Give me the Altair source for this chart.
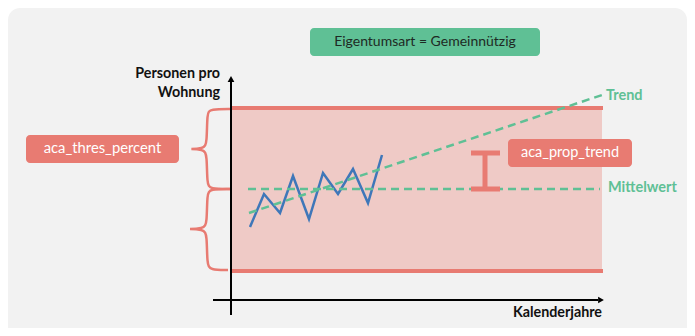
import altair as alt
import pandas as pd

# ---- data (diagram units: x = (px-8)/10, y = (328-py)/10) ----
series_x = [24.2, 25.6, 27.2, 28.5, 30.1, 31.5, 33.0, 34.5, 36.0, 37.4]
series_y = [10.1, 13.4, 11.5, 15.2, 10.9, 15.5, 13.4, 15.9, 12.5, 17.3]

mean_x = [24.0, 59.2]
mean_y = [13.9, 13.9]

trend_x = [24.1, 59.4]
trend_y = [11.5, 23.3]

band_x = [22.3, 59.4]
band_y = [5.7, 22.0]

brace_up_x = [22.4, 20.2, 19.9, 19.9, 19.6, 17.7, 19.6, 19.9, 19.9, 20.2, 22.2]
brace_up_y = [21.9, 21.9, 21.5, 18.5, 17.9, 17.9, 17.9, 17.3, 14.4, 13.9, 13.9]
brace_lo_x = [22.2, 20.2, 19.9, 19.9, 19.6, 17.5, 19.6, 19.9, 19.9, 20.2, 22.0]
brace_lo_y = [13.9, 13.9, 13.4, 10.5, 9.9, 9.9, 9.9, 9.3, 6.4, 5.8, 5.8]

yaxis_x = [22.3, 22.3]
yaxis_y = [1.3, 24.6]
xaxis_x = [20.5, 59.0]
xaxis_y = [2.8, 2.8]

err_x = 47.7
err_y = [13.9, 17.5]
cap_x = [46.3, 49.2]

boxes_label = ["Eigentumsart = Gemeinnützig", "aca_prop_trend", "aca_thres_percent"]
boxes_x = [30.2, 50.0, 1.8]
boxes_x2 = [53.2, 62.4, 17.1]
boxes_y = [30.0, 18.9, 19.3]
boxes_y2 = [27.2, 16.1, 16.5]
boxes_fill = ["#5fc095", "#e87b72", "#e87b72"]
boxes_text = ["#1e2a24", "#ffffff", "#ffffff"]
boxes_fsize = [14.0, 14.5, 14.8]

RED = "#e87b72"
GREEN = "#5fc095"
BLUE = "#3f77b9"
FONT = "Lato"

XMIN, XMAX, YMIN, YMAX = 0.0, 67.9, 0.0, 32.0
xs = alt.Scale(domain=[XMIN, XMAX], nice=False, zero=False)
ys = alt.Scale(domain=[YMIN, YMAX], nice=False, zero=False)
X = lambda f: alt.X(f, type="quantitative", scale=xs, axis=None)
Y = lambda f: alt.Y(f, type="quantitative", scale=ys, axis=None)

bg = alt.Chart(pd.DataFrame({"x": [XMIN], "x2": [XMAX], "y": [YMIN], "y2": [YMAX]})).mark_rect(
    color="#f2f2f2", cornerRadiusTopLeft=12, cornerRadiusTopRight=12).encode(
    x=X("x"), x2="x2", y=Y("y"), y2="y2")

band = alt.Chart(pd.DataFrame({"x": [band_x[0]], "x2": [band_x[1]], "y": [band_y[0]], "y2": [band_y[1]]})).mark_rect(
    color="#efcac6").encode(x=X("x"), x2="x2", y=Y("y"), y2="y2")

band_lines = alt.Chart(pd.DataFrame({"x": [band_x[0]] * 2, "x2": [band_x[1] + 0.1] * 2, "y": band_y})).mark_rule(
    color=RED, strokeWidth=4).encode(x=X("x"), x2="x2", y=Y("y"))

brace_df = pd.DataFrame({
    "x": brace_up_x + brace_lo_x,
    "y": brace_up_y + brace_lo_y,
    "g": ["up"] * len(brace_up_x) + ["lo"] * len(brace_lo_x),
    "o": list(range(len(brace_up_x))) + list(range(len(brace_lo_x))),
})
braces = alt.Chart(brace_df).mark_line(color=RED, strokeWidth=2.5, interpolate="basis").encode(
    x=X("x"), y=Y("y"), detail="g:N", order="o:Q")

axes_df = pd.DataFrame({"x": [yaxis_x[0], xaxis_x[0]], "x2": [yaxis_x[1], xaxis_x[1]],
                        "y": [yaxis_y[0], xaxis_y[0]], "y2": [yaxis_y[1], xaxis_y[1]]})
axes = alt.Chart(axes_df).mark_rule(color="black", strokeWidth=2).encode(
    x=X("x"), x2="x2", y=Y("y"), y2="y2")
arrow_up = alt.Chart(pd.DataFrame({"x": [yaxis_x[1]], "y": [yaxis_y[1] + 0.3]})).mark_point(
    shape="triangle-up", filled=True, color="black", size=45, opacity=1).encode(x=X("x"), y=Y("y"))
arrow_right = alt.Chart(pd.DataFrame({"x": [xaxis_x[1] + 0.3], "y": [xaxis_y[0]]})).mark_point(
    shape="triangle-right", filled=True, color="black", size=45, opacity=1).encode(x=X("x"), y=Y("y"))

series = alt.Chart(pd.DataFrame({"x": series_x, "y": series_y})).mark_line(
    color=BLUE, strokeWidth=2.5).encode(x=X("x"), y=Y("y"))

mean = alt.Chart(pd.DataFrame({"x": mean_x, "y": mean_y})).mark_line(
    color=GREEN, strokeWidth=2.5, strokeDash=[8, 5]).encode(x=X("x"), y=Y("y"))
trend = alt.Chart(pd.DataFrame({"x": trend_x, "y": trend_y})).mark_line(
    color=GREEN, strokeWidth=2.5, strokeDash=[8, 5]).encode(x=X("x"), y=Y("y"))

err = alt.Chart(pd.DataFrame({"x": [err_x], "y": [err_y[0]], "y2": [err_y[1]]})).mark_rule(
    color=RED, strokeWidth=5).encode(x=X("x"), y=Y("y"), y2="y2")
caps = alt.Chart(pd.DataFrame({"x": [cap_x[0]] * 2, "x2": [cap_x[1]] * 2, "y": err_y})).mark_rule(
    color=RED, strokeWidth=5).encode(x=X("x"), x2="x2", y=Y("y"))

box_df = pd.DataFrame({"label": boxes_label, "x": boxes_x, "x2": boxes_x2, "y": boxes_y, "y2": boxes_y2,
                       "fill": boxes_fill, "tc": boxes_text, "fs": boxes_fsize})
box_df["cx"] = (box_df["x"] + box_df["x2"]) / 2
box_df["cy"] = (box_df["y"] + box_df["y2"]) / 2
boxes = alt.Chart(box_df).mark_rect(cornerRadius=4).encode(
    x=X("x"), x2="x2", y=Y("y"), y2="y2", color=alt.Color("fill:N", scale=None))
box_text = alt.Chart(box_df).mark_text(font=FONT, align="center", baseline="middle").encode(
    x=X("cx"), y=Y("cy"), text="label:N", color=alt.Color("tc:N", scale=None),
    size=alt.Size("fs:Q", scale=None))

lab_df = pd.DataFrame({"t": ["Trend", "Mittelwert"], "x": [59.8, 60.0], "y": [23.2, 14.0]})
green_labels = alt.Chart(lab_df).mark_text(font=FONT, fontSize=14.5, fontWeight="bold", align="left",
                                           baseline="middle", color=GREEN).encode(
    x=X("x"), y=Y("y"), text="t:N")

ax_df = pd.DataFrame({"t": ["Personen pro", "Wohnung", "Kalenderjahre"],
                      "x": [21.2, 21.2, 59.4], "y": [25.4, 23.5, 1.5]})
axis_labels = alt.Chart(ax_df).mark_text(font=FONT, fontSize=14.3, fontWeight="bold", align="right",
                                         baseline="middle", color="#111111").encode(
    x=X("x"), y=Y("y"), text="t:N")

chart = alt.layer(
    bg, band, band_lines, braces, axes, arrow_up, arrow_right, series, mean, trend,
    err, caps, boxes, box_text, green_labels, axis_labels
).properties(width=679, height=320, padding=0, background="#ffffff").configure_view(stroke=None)

chart.save("out.html", embed_options={"renderer": "svg", "actions": False})
